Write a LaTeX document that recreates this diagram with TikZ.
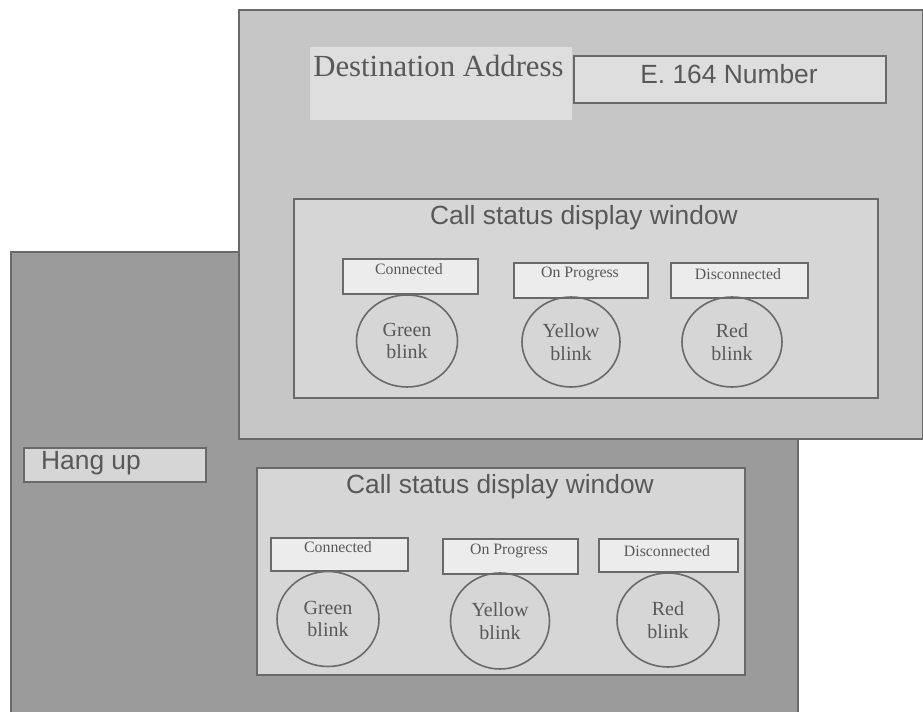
\documentclass[tikz,border=0pt]{standalone}
\usepackage{fontspec}
\setmainfont{Liberation Serif}
\newfontfamily\arialf{Liberation Sans}
\usetikzlibrary{shapes.geometric}
\definecolor{backgray}{RGB}{155,155,155}
\definecolor{frontgray}{RGB}{198,198,198}
\definecolor{wingray}{RGB}{214,214,214}
\definecolor{lblgray}{RGB}{236,236,236}
\definecolor{destgray}{RGB}{222,222,222}
\definecolor{edgegray}{RGB}{105,105,105}
\definecolor{txtgray}{RGB}{88,88,88}
\tikzset{
  rbox/.style={draw=edgegray, line width=0.9pt, anchor=north west, inner sep=0pt},
  titletxt/.style={font=\arialf\fontsize{15}{18}\selectfont, text=txtgray, inner sep=0pt},
  bigsans/.style={font=\arialf\fontsize{15}{18}\selectfont, text=txtgray, inner sep=0pt},
  smalltxt/.style={font=\fontsize{9}{11}\selectfont, text=txtgray, inner sep=0pt},
  lamp/.style={ellipse, draw=edgegray, line width=0.9pt, inner sep=0pt, align=center,
    font=\fontsize{11.4}{12.8}\selectfont, text=txtgray},
}
\begin{document}
\begin{tikzpicture}[x=0.02cm,y=-0.02cm]
\useasboundingbox[fill=white] (0,0) rectangle (923,712);
% back panel
\node[rbox, fill=backgray, minimum width=787*0.02cm, minimum height=470*0.02cm] (back) at (10,251) {};
% hang up
\node[rbox, fill=wingray, minimum width=182*0.02cm, minimum height=34*0.02cm] (hang) at (23,447) {};
\node[bigsans] (hangt) at (91,463) {Hang up};
% bottom window
\node[rbox, fill=wingray, minimum width=488*0.02cm, minimum height=207*0.02cm] (win2) at (256,467) {};
\node[titletxt] (win2t) at (500,487) {Call status display window};
\node[rbox, fill=lblgray, minimum width=137*0.02cm, minimum height=33*0.02cm] (c2) at (270,537) {};
\node[smalltxt] (c2t) at (338,547) {Connected};
\node[rbox, fill=lblgray, minimum width=135*0.02cm, minimum height=35*0.02cm] (p2) at (442,538) {};
\node[smalltxt] (p2t) at (509,551) {On Progress};
\node[rbox, fill=lblgray, minimum width=139*0.02cm, minimum height=33*0.02cm] (d2) at (598,538) {};
\node[smalltxt] (d2t) at (667,551) {Disconnected};
\node[lamp, minimum width=102*0.02cm, minimum height=95*0.02cm] (g2) at (328,619) {Green\\blink};
\node[lamp, minimum width=99*0.02cm, minimum height=96*0.02cm] (y2) at (500,621) {Yellow\\blink};
\node[lamp, minimum width=102*0.02cm, minimum height=94*0.02cm] (r2) at (668,620) {Red\\blink};
% front panel
\node[rbox, fill=frontgray, minimum width=684*0.02cm, minimum height=429*0.02cm] (front) at (238,9) {};
\fill[destgray] (310,47) rectangle (572,120);
\node[font=\fontsize{17.5}{20}\selectfont, text=txtgray, inner sep=0pt, anchor=west] (dest) at (313,66) {Destination Address};
\node[rbox, fill=destgray, minimum width=312*0.02cm, minimum height=47*0.02cm] (e164) at (573,55) {};
\node[bigsans] (e164t) at (729,74) {E. 164 Number};
% top window
\node[rbox, fill=wingray, minimum width=584*0.02cm, minimum height=199*0.02cm] (win1) at (293,198) {};
\node[titletxt] (win1t) at (584,218) {Call status display window};
\node[rbox, fill=lblgray, minimum width=135*0.02cm, minimum height=35*0.02cm] (c1) at (342,258) {};
\node[smalltxt] (c1t) at (409,269) {Connected};
\node[rbox, fill=lblgray, minimum width=134*0.02cm, minimum height=35*0.02cm] (p1) at (513,262) {};
\node[smalltxt] (p1t) at (580,274) {On Progress};
\node[rbox, fill=lblgray, minimum width=137*0.02cm, minimum height=35*0.02cm] (d1) at (670,262) {};
\node[smalltxt] (d1t) at (738,274) {Disconnected};
\node[lamp, minimum width=101*0.02cm, minimum height=92*0.02cm] (g1) at (407,341) {Green\\blink};
\node[lamp, minimum width=98*0.02cm, minimum height=90*0.02cm] (y1) at (571,342) {Yellow\\blink};
\node[lamp, minimum width=100*0.02cm, minimum height=90*0.02cm] (r1) at (732,342) {Red\\blink};
\end{tikzpicture}
\end{document}
